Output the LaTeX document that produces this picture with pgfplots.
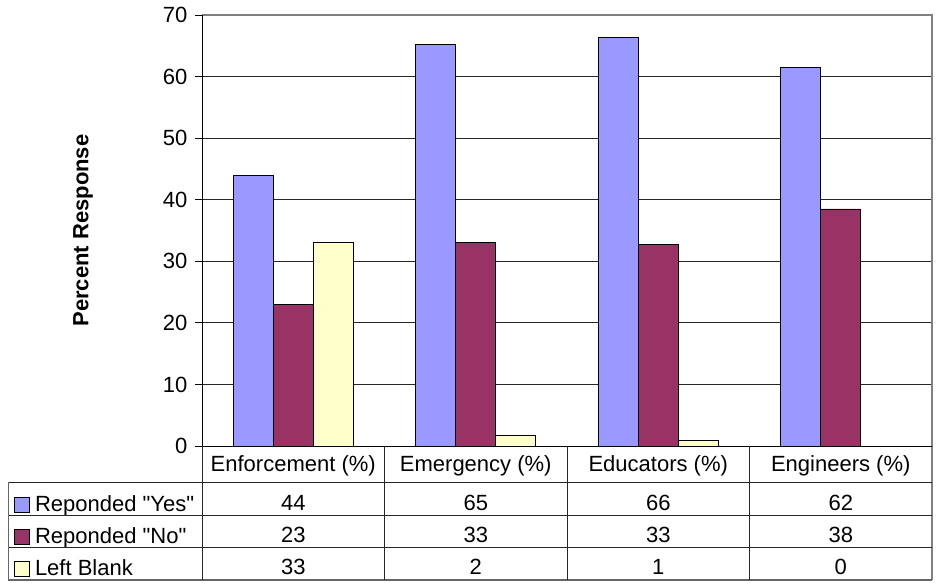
\documentclass[border=0pt]{standalone}
\usepackage{fontspec}
\setmainfont{Liberation Sans}
\usepackage{pgfplots}
\pgfplotsset{compat=1.18}
\definecolor{cYes}{HTML}{9999FF}
\definecolor{cNo}{HTML}{993366}
\definecolor{cBlank}{HTML}{FFFFCC}
\pgfplotsset{sqlegend/.style={legend image code/.code={\draw[##1,/tikz/.cd,draw=black,line width=0.8pt] (0pt,-6pt) rectangle (15pt,9pt);}}}
\begin{document}
\begin{tikzpicture}[font=\fontsize{22}{26}\selectfont]
\fill[white] (0,0) rectangle (936pt,-582pt);
\useasboundingbox (0,0) rectangle (936pt,-582pt);
\begin{axis}[
  at={(202pt,-446pt)}, anchor=south west,
  scale only axis, width=730pt, height=431pt,
  xmin=-0.5, xmax=3.5, ymin=0, ymax=70,
  ytick={0,10,...,70},
  xtick={0,1,2,3},
  xticklabels={Enforcement (\%),Emergency (\%),Educators (\%),Engineers (\%)},
  xtick style={draw=none},
  xticklabel style={anchor=base, yshift=-18pt},
  yticklabel style={xshift=-4pt},
  ybar=0pt, bar width=40pt,
  axis line style={draw=none},
  ymajorgrids, grid style={black!85, line width=0.8pt},
  tick align=outside, ytick pos=left, xtick pos=bottom, major tick length=7pt,
  ytick style={black, line width=0.8pt},
  /pgf/number format/assume math mode=true,
  ylabel={\bfseries Percent Response},
  every axis y label/.style={at={(axis description cs:-0.163,0.5)}, rotate=90, anchor=center},
  legend style={at={(axis description cs:-0.2575,-0.1137)}, anchor=north west, draw=none, fill=none, inner sep=0pt, row sep=10.3pt, column sep=5pt, nodes={inner sep=0pt, text height=16pt, text depth=6pt}},
  legend cell align=left,
  clip=false,
]
\addplot[fill=cYes, draw=black, line width=0.8pt, sqlegend] coordinates {(0,44) (1,65.2) (2,66.3) (3,61.5)};
\addlegendentry{Reponded \textquotedbl Yes\textquotedbl}
\addplot[fill=cNo, draw=black, line width=0.8pt, sqlegend] coordinates {(0,23) (1,33) (2,32.7) (3,38.5)};
\addlegendentry{Reponded \textquotedbl No\textquotedbl}
\addplot[fill=cBlank, draw=black, line width=0.8pt, sqlegend] coordinates {(0,33) (1,1.8) (2,0.9) (3,0)};
\addlegendentry{Left Blank}
\end{axis}
% axis frame
\draw[black!50, line width=1.2pt] (202pt,-15pt) -- (932pt,-15pt) -- (932pt,-580pt);
\draw[black, line width=1pt] (202pt,-15pt) -- (202pt,-446pt) -- (932pt,-446pt);
% data table grid
\foreach \yy in {482.3,515,547.7} \draw[black!85, line width=0.9pt] (8pt,-\yy pt) -- (932pt,-\yy pt);
\draw[black!60, line width=1.2pt] (8pt,-580pt) -- (932pt,-580pt);
\draw[black!60, line width=1pt] (8pt,-482.3pt) -- (8pt,-580pt);
\foreach \xx in {202,384.5,567,749.5} \draw[black!85, line width=0.9pt] (\xx pt,-446pt) -- (\xx pt,-580pt);
% table values
\foreach \cx/\a/\b/\c in {293.25/44/23/33, 475.75/65/33/2, 658.25/66/33/1, 840.75/62/38/0} {
  \node[anchor=base, inner sep=0pt] at (\cx pt,-510pt) {\a};
  \node[anchor=base, inner sep=0pt] at (\cx pt,-542.7pt) {\b};
  \node[anchor=base, inner sep=0pt] at (\cx pt,-574.3pt) {\c};
}
\end{tikzpicture}
\end{document}
